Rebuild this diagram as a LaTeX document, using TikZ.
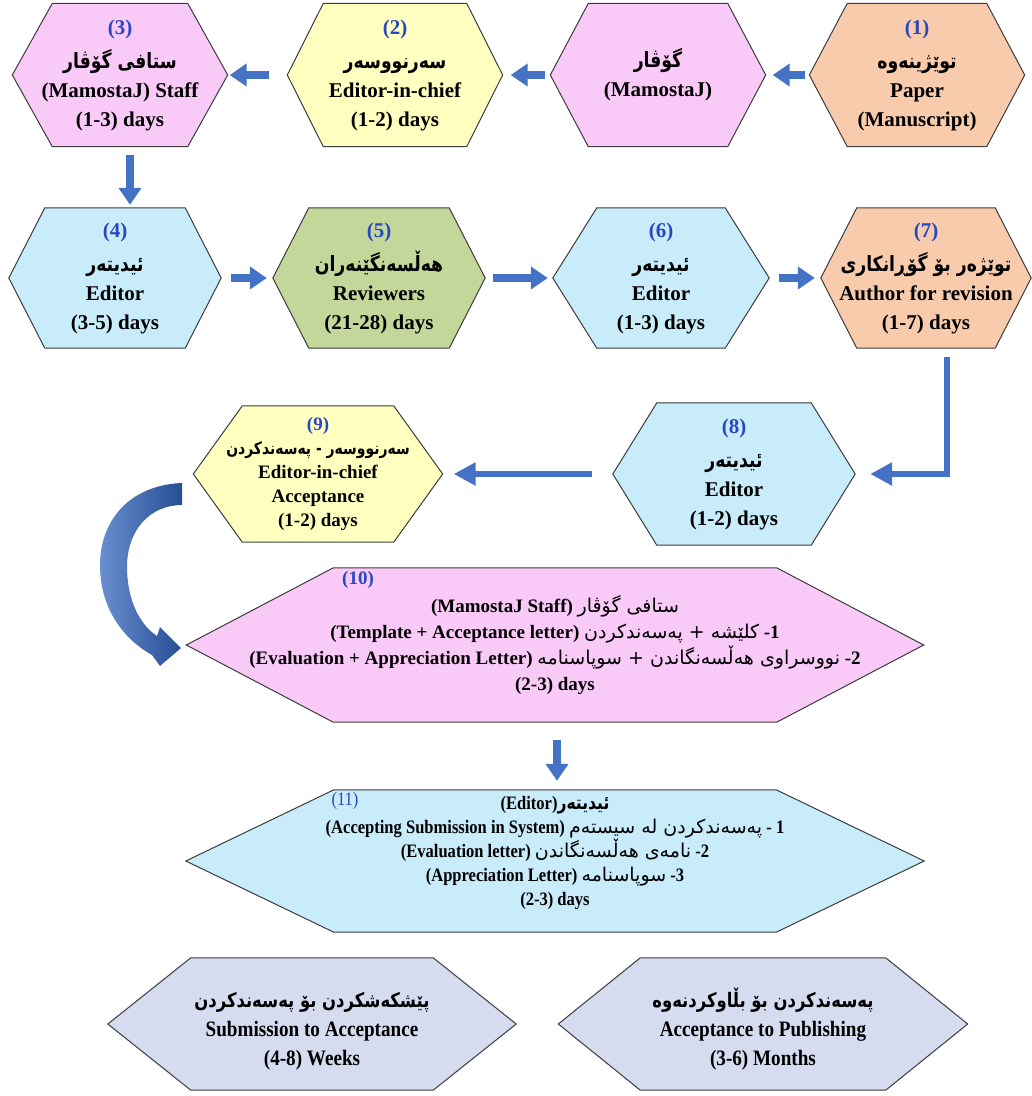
\documentclass[tikz,border=0pt]{standalone}
\usepackage{fontspec}
\setmainfont{Liberation Serif}
\newfontfamily\kurd[Script=Arabic, FakeStretch=0.82]{DejaVu Sans}
\newfontfamily\kurdwide[Script=Arabic]{DejaVu Sans}
\newfontfamily\narrowserif[FakeStretch=0.87]{Liberation Serif}
\TeXXeTstate=1
\usetikzlibrary{arrows.meta,backgrounds}

\definecolor{pinkfill}{RGB}{249,201,247}
\definecolor{yellowfill}{RGB}{255,255,192}
\definecolor{peachfill}{RGB}{248,203,173}
\definecolor{bluefill}{RGB}{200,236,250}
\definecolor{greenfill}{RGB}{196,215,155}
\definecolor{greyfill}{RGB}{214,220,240}
\definecolor{arrowblue}{RGB}{68,114,196}
\definecolor{arrowdark}{RGB}{38,78,148}
\definecolor{numblue}{RGB}{40,70,190}
\definecolor{hexline}{RGB}{60,60,60}

\newcommand{\rowfont}{\fontsize{21}{29}\selectfont\bfseries}
\newcommand{\basefont}{\fontsize{22}{29}\selectfont\bfseries\narrowserif}
\newcommand{\kb}[1]{{\kurd\bfseries\beginR #1\endR}}
\newcommand{\kr}[1]{{\kurdwide\mdseries\beginR #1\endR}}
\newcommand{\stepno}[1]{\textcolor{numblue}{#1}}
% hexagon round a named node: node, slant, fill
\newcommand{\hexa}[3]{\filldraw[draw=hexline, line width=1pt, fill=#3] (#1.west) -- ([xshift=#2]#1.north west) -- ([xshift=-#2]#1.north east) -- (#1.east) -- ([xshift=-#2]#1.south east) -- ([xshift=#2]#1.south west) -- cycle;}

\begin{document}
\begin{tikzpicture}[x=1pt, y=-1pt,
rowhex/.style={minimum width=215pt, minimum height=143pt, inner sep=0pt, align=center, font=\rowfont},
widehex/.style={minimum width=737pt, inner sep=0pt, align=center},
basehex/.style={minimum width=408pt, minimum height=132pt, inner sep=0pt, align=center, font=\basefont},
steplabel/.style={text=numblue, font=\fontsize{19}{22}\selectfont\bfseries, inner sep=0pt},
flowarrow/.style={draw=arrowblue, line width=8pt, -{Triangle[width=22pt,length=17pt]}},
linkarrow/.style={draw=arrowblue, line width=6pt, -{Triangle[width=22pt,length=22pt]}}
]
    \useasboundingbox (0,0) rectangle (1032,1096);

    % first row
    \node[rowhex] (n1) at (917,75) {\stepno{(1)}\\[5pt] \kb{توێژینەوە}\\ Paper\\ (Manuscript)};
    \node[rowhex] (nj) at (658,75) {\kb{گۆڤار}\\ (MamostaJ)};
    \node[rowhex] (n2) at (395,75) {\stepno{(2)}\\[5pt] \kb{سەرنووسەر}\\ Editor-in-chief\\ (1-2) days};
    \node[rowhex] (n3) at (120,75) {\stepno{(3)}\\[5pt] \kb{ستافی گۆڤار}\\ (MamostaJ) Staff\\ (1-3) days};

    % second row
    \node[rowhex, minimum width=212pt, minimum height=140pt] (n4) at (115,278) {\stepno{(4)}\\[5pt] \kb{ئیدیتەر}\\ Editor\\ (3-5) days};
    \node[rowhex, minimum width=212pt, minimum height=140pt] (n5) at (379,278) {\stepno{(5)}\\[5pt] \kb{هەڵسەنگێنەران}\\ Reviewers\\ (21-28) days};
    \node[rowhex, minimum width=216pt, minimum height=140pt] (n6) at (661,278) {\stepno{(6)}\\[5pt] \kb{ئیدیتەر}\\ Editor\\ (1-3) days};
    \node[rowhex, minimum width=210pt, minimum height=140pt] (n7) at (926,278) {\stepno{(7)}\\[5pt] \kb{توێژەر بۆ گۆڕانکاری}\\ Author for revision\\ (1-7) days};

    % third row
    \node[rowhex, minimum width=242pt, minimum height=142pt] (n8) at (734,474) {\stepno{(8)}\\[5pt] \kb{ئیدیتەر}\\ Editor\\ (1-2) days};
    \node[rowhex, minimum width=249pt, minimum height=136pt, font=\fontsize{19}{24}\selectfont\bfseries] (n9) at (318,474) {\stepno{(9)}\\ {\fontsize{17}{24}\selectfont\kb{سەرنووسەر - پەسەندکردن}}\\ Editor-in-chief\\ Acceptance\\ (1-2) days};

    % staff and editor
    \node[widehex, minimum height=154pt, font=\fontsize{19}{26}\selectfont\bfseries] (n10) at (555,645) {(MamostaJ Staff) \kr{ستافی گۆڤار}\\ (Template + Acceptance letter) \kr{کلێشە + پەسەندکردن} -1\\ (Evaluation + Appreciation Letter) \kr{نووسراوی هەڵسەنگاندن + سوپاسنامە} -2\\ (2-3) days};
    \node[steplabel] (n10no) at (358,580) {(10)};
    \node[widehex, minimum width=738pt, minimum height=142pt, text depth=20pt, font=\fontsize{19}{24}\selectfont\bfseries\narrowserif] (n11) at (555,861) {(Editor)\kb{ئیدیتەر}\\ (Accepting Submission in System) \kr{پەسەندکردن لە سیستەم} - 1\\ (Evaluation letter) \kr{نامەی هەڵسەنگاندن} -2\\ (Appreciation Letter) \kr{سوپاسنامە} -3\\ (2-3) days};
    \node[steplabel, font=\fontsize{19}{22}\selectfont\narrowserif] (n11no) at (345,801) {(11)};

    % totals
    \node[basehex] (nb1) at (312,1024) {\rule{0pt}{30pt}{\fontsize{20}{29}\selectfont\kb{پێشکەشکردن بۆ پەسەندکردن}}\\ Submission to Acceptance\\ (4-8) Weeks};
    \node[basehex, minimum width=409pt] (nb2) at (763,1024) {\rule{0pt}{30pt}{\fontsize{20}{29}\selectfont\kb{پەسەندکردن بۆ بڵاوکردنەوە}}\\ Acceptance to Publishing\\ (3-6) Months};

    \begin{scope}[on background layer]
        \hexa{n1}{38pt}{peachfill}
        \hexa{nj}{38pt}{pinkfill}
        \hexa{n2}{36pt}{yellowfill}
        \hexa{n3}{40pt}{pinkfill}
        \hexa{n4}{36pt}{bluefill}
        \hexa{n5}{36pt}{greenfill}
        \hexa{n6}{44pt}{bluefill}
        \hexa{n7}{36pt}{peachfill}
        \hexa{n8}{44pt}{bluefill}
        \hexa{n9}{49pt}{yellowfill}
        \hexa{n10}{147pt}{pinkfill}
        \hexa{n11}{148pt}{bluefill}
        \hexa{nb1}{83pt}{greyfill}
        \hexa{nb2}{82pt}{greyfill}
    \end{scope}

    \draw[flowarrow, shorten <=4pt, shorten >=7pt] (n1.west) -- (nj.east);
    \draw[flowarrow, shorten <=5pt, shorten >=8pt] (nj.west) -- (n2.east);
    \draw[flowarrow, shorten <=18pt, shorten >=2pt] (n2.west) -- (n3.east);
    \draw[flowarrow, shorten <=8pt, shorten >=3pt] ([xshift=10pt]n3.south) -- ([xshift=10pt]n3.south |- n4.north);

    \draw[flowarrow, shorten <=10pt, shorten >=6pt] (n4.east) -- (n5.west);
    \draw[flowarrow, shorten <=8pt, shorten >=5pt] (n5.east) -- (n6.west);
    \draw[flowarrow, shorten <=10pt, shorten >=6pt] (n6.east) -- (n7.west);

    \draw[linkarrow, shorten <=9pt, shorten >=15pt] ([xshift=21pt]n7.south) |- (n8.east);
    \draw[linkarrow, shorten <=21pt, shorten >=11pt] (n8.west) -- (n9.east);

    % curved arrow from (9) down to (10)
    \shade[left color=arrowblue!80!white, right color=arrowdark] (182,483) .. controls (130,485) and (100,520) .. (100,565) .. controls (100,610) and (125,640) .. (152,655) -- (160,666) -- (181,648) -- (160,627) -- (157,636) .. controls (140,625) and (127,600) .. (127,567) .. controls (127,530) and (150,505) .. (182,505) -- cycle;

    \draw[flowarrow, shorten <=18pt, shorten >=9pt] ([xshift=2pt]n10.south) -- ([xshift=2pt]n11.north);
\end{tikzpicture}
\end{document}
